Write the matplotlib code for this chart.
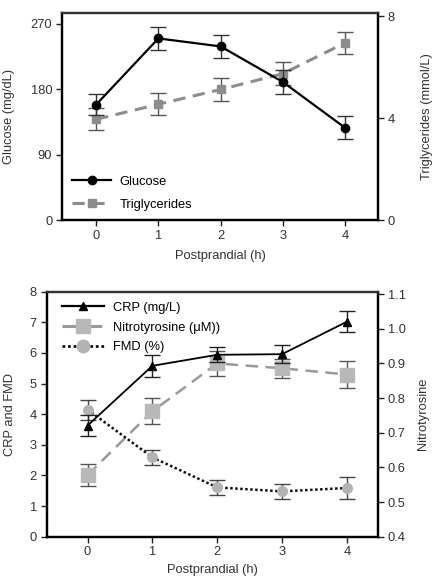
import matplotlib
matplotlib.use("Agg")
import matplotlib.pyplot as plt
from matplotlib.lines import Line2D

plt.rcParams['font.family'] = ['Liberation Sans', 'DejaVu Sans']
plt.rcParams['font.size'] = 9.3

# ---- data ----
hours = [0, 1, 2, 3, 4]
glucose = [159, 250, 239, 190, 127]
glucose_err = [15, 16, 16, 16, 16]
trig = [3.95, 4.54, 5.12, 5.74, 6.95]
trig_err = [0.43, 0.44, 0.44, 0.46, 0.44]

crp = [3.63, 5.58, 5.94, 5.96, 7.02]
crp_err = [0.35, 0.35, 0.25, 0.3, 0.35]
nitro = [0.578, 0.762, 0.900, 0.886, 0.868]
nitro_err = [0.031, 0.038, 0.037, 0.028, 0.038]
fmd = [4.15, 2.59, 1.61, 1.48, 1.59]
fmd_err = [0.33, 0.24, 0.25, 0.25, 0.37]

W, H = 432, 578
fig = plt.figure(figsize=(W / 100, H / 100), dpi=100)

def style_axes(ax, ax2):
    for sp in ['left', 'bottom', 'right', 'top']:
        ax.spines[sp].set_linewidth(1.6)
        ax2.spines[sp].set_linewidth(1.6)
    ax.spines['top'].set_color('#333333')
    ax2.spines['top'].set_color('#333333')
    ax.tick_params(direction='out', length=4, width=1, pad=3, colors='#222222', labelcolor='#333333')
    ax2.tick_params(direction='out', length=4, width=1, pad=3, colors='#222222', labelcolor='#333333')

# ---- top panel ----
G2T = 8.12 / 285
ax = fig.add_axes([62 / W, 1 - 220 / H, 316 / W, 207 / H])
ax2 = ax.twinx()
style_axes(ax, ax2)
ax.set_xlim(-0.55, 4.53)
ax.set_ylim(0, 285)
ax.set_yticks([0, 90, 180, 270])
ax2.set_ylim(0, 8.12)
ax2.set_yticks([0, 4, 8])
ax.set_xticks(hours)
ax.set_xlabel('Postprandial (h)', color='#333333', labelpad=6)
ax.set_ylabel('Glucose (mg/dL)', color='#333333', labelpad=11)
ax2.set_ylabel('Triglycerides (mmol/L)', color='#333333', labelpad=19)

ax2.errorbar(hours, trig, yerr=trig_err, fmt='none', ecolor='#555555', elinewidth=1, capsize=6, capthick=1, zorder=2)
ax2.plot(hours, trig, color='#8c8c8c', lw=2.2, ls=(0, (4, 2.5)), marker='s', ms=5.5, zorder=3)
ax2.errorbar(hours, [g * G2T for g in glucose], yerr=[e * G2T for e in glucose_err],
             fmt='none', ecolor='#333333', elinewidth=1, capsize=6, capthick=1, zorder=4)
ax2.plot(hours, [g * G2T for g in glucose], color='black', lw=1.6, marker='o', ms=6, zorder=5)

h1 = Line2D([], [], color='black', lw=1.6, marker='o', ms=6)
h2 = Line2D([], [], color='#8c8c8c', lw=2.2, ls=(0, (4, 2.5)), marker='s', ms=5.5)
ax2.legend([h1, h2], ['Glucose', 'Triglycerides'], loc='upper left',
           bbox_to_anchor=(0.012, 0.245), frameon=False, borderpad=0,
           handlelength=3.0, handletextpad=0.65, labelspacing=0.85, numpoints=1)

# ---- bottom panel ----
bx = fig.add_axes([46.7 / W, 1 - 536.7 / H, 331.3 / W, 245 / H])
bx2 = bx.twinx()
style_axes(bx, bx2)
bx.set_xlim(-0.63, 4.48)
bx.set_ylim(0, 8.0)
bx.set_yticks(range(0, 9))
bx2.set_ylim(0.4, 1.107)
bx2.set_yticks([0.4, 0.5, 0.6, 0.7, 0.8, 0.9, 1.0, 1.1])
bx2.set_yticklabels(['0.4', '0.5', '0.6', '0.7', '0.8', '0.9', '1.0', '1.1'])
bx.set_xticks(hours)
bx.set_xlabel('Postprandial (h)', color='#333333', labelpad=4)
bx.set_ylabel('CRP and FMD', color='#333333', labelpad=10)
bx2.set_ylabel('Nitrotyrosine', color='#333333', labelpad=8)

bx2.errorbar(hours, nitro, yerr=nitro_err, fmt='none', ecolor='#555555', elinewidth=1, capsize=5.5, capthick=1, zorder=2)
bx2.plot(hours, nitro, color='#999999', lw=1.8, ls=(0, (5, 3)), zorder=3)
bx2.plot(hours, nitro, ls='none', marker='s', ms=9.5, color='#b8b8b8', zorder=3.5)

bx.set_zorder(bx2.get_zorder() + 1)
bx.patch.set_visible(False)
bx.errorbar(hours, fmd, yerr=fmd_err, fmt='none', ecolor='#444444', elinewidth=1, capsize=5.5, capthick=1, zorder=2)
bx.plot(hours, fmd, color='#111111', lw=1.8, ls=(0, (1, 1)), zorder=3)
bx.plot(hours, fmd, ls='none', marker='o', ms=7, color='#b3b3b3', zorder=3.5)
bx.errorbar(hours, crp, yerr=crp_err, fmt='none', ecolor='#222222', elinewidth=1, capsize=5.5, capthick=1, zorder=4)
bx.plot(hours, crp, color='black', lw=1.3, marker='^', ms=5.5, zorder=5)

g1 = Line2D([], [], color='black', lw=1.6, marker='^', ms=6)
g2 = Line2D([], [], color='#999999', lw=2.2, ls=(0, (5, 3)), marker='s', ms=10, mfc='#b8b8b8', mec='#b8b8b8')
g3 = Line2D([], [], color='#111111', lw=2.0, ls=(0, (1, 1)), marker='o', ms=9, mfc='#b3b3b3', mec='#b3b3b3')
bx.legend([g1, g2, g3], ['CRP (mg/L)', 'Nitrotyrosine (\u03bcM))', 'FMD (%)'], loc='upper left',
          bbox_to_anchor=(0.028, 0.985), frameon=False, borderpad=0,
          handlelength=3.2, handletextpad=0.7, labelspacing=0.6, numpoints=1)

fig.savefig('out.png', dpi=100)
